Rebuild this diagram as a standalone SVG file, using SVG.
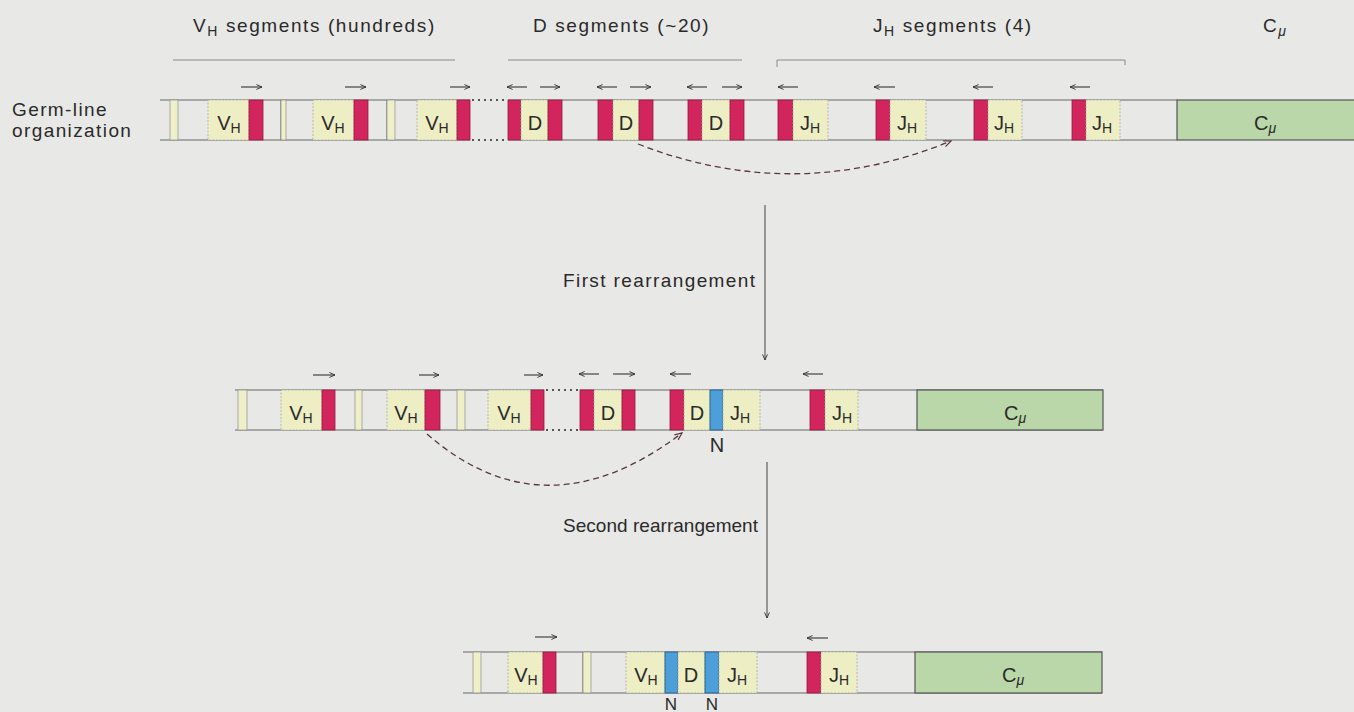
<svg xmlns="http://www.w3.org/2000/svg" width="1354" height="712" viewBox="0 0 1354 712">
<defs>
<marker id="ah" viewBox="0 0 10 10" refX="9" refY="5" markerWidth="7" markerHeight="7" orient="auto" markerUnits="userSpaceOnUse"><path d="M1,1.5 L9,5 L1,8.5" fill="none" stroke="#333" stroke-width="1.3"/></marker>
<marker id="ahd" viewBox="0 0 10 10" refX="9" refY="5" markerWidth="9" markerHeight="9" orient="auto" markerUnits="userSpaceOnUse"><path d="M1,1.5 L9,5 L1,8.5" fill="none" stroke="#5a3644" stroke-width="1.3"/></marker>
<style>
text{font-family:"Liberation Sans",Arial,Helvetica,sans-serif;fill:#2a2a2a}
.hd{font-size:19px;letter-spacing:1.6px}
.lb{font-size:19px;letter-spacing:1.4px}
.bx{font-size:20px;text-anchor:middle}
.nl{font-size:17px;text-anchor:middle}
.sub{font-size:14px}
.strand{stroke:#666;stroke-width:1.2;fill:none}
.dots{stroke:#555;stroke-width:2;stroke-dasharray:2 4;fill:none}
.y{fill:#eeeec4;stroke:#aaa;stroke-width:0.8;stroke-dasharray:2 1.5}
.band{fill:#efefc8;stroke:#999;stroke-width:0.8}
.r{fill:#d3255d;stroke:#8f1c42;stroke-width:0.8}
.b{fill:#4c9fd8;stroke:#275e88;stroke-width:0.9}
.g{fill:#b9d7a8;stroke:#555;stroke-width:1.2}
.dir{stroke:#333;stroke-width:1.1;fill:none}
.brk{stroke:#8a8a8a;stroke-width:1;fill:none}
.curve{stroke:#5a3644;stroke-width:1.3;stroke-dasharray:6 4;fill:none}
.vert{stroke:#444;stroke-width:1;fill:none}
</style>
</defs>
<rect x="0" y="0" width="1354" height="712" fill="#e8e8e6"/>

<!-- headers -->
<g id="headers">
<text class="hd" x="193" y="32">V<tspan class="sub" dy="4">H</tspan><tspan dy="-4"> segments (hundreds)</tspan></text>
<text class="hd" x="533" y="32">D segments (~20)</text>
<text class="hd" x="873" y="32">J<tspan class="sub" dy="4">H</tspan><tspan dy="-4"> segments (4)</tspan></text>
<text class="hd" x="1263" y="32">C<tspan class="sub" dy="4" font-style="italic">μ</tspan></text>
<path class="brk" d="M173,60 H455"/>
<path class="brk" d="M508,60 H742"/>
<path class="brk" d="M777,67 V60 H1125 V65"/>
</g>

<g id="row-label">
<text class="lb" x="12" y="116">Germ-line</text>
<text class="lb" x="12" y="137">organization</text>
</g>

<!-- TOP ROW -->
<g id="germline-strand">
<path class="strand" d="M160,100 H470 M508,100 H1177 M160,140 H470 M508,140 H1177"/>
<path class="dots" d="M472,100 H506 M472,140 H506"/>
</g>
<g id="top-vh1">
<rect class="band" x="170" y="100" width="8" height="40"/>
<rect class="y" x="208" y="100" width="41" height="40"/>
<rect class="r" x="249" y="100" width="14" height="40"/>
<text class="bx" x="229" y="130">V<tspan class="sub" dy="3">H</tspan></text>
<path class="dir" d="M241,87 H262" marker-end="url(#ah)"/>
</g>
<g id="top-vh2">
<path class="strand" d="M281,100 V140"/>
<rect class="band" x="281" y="100" width="5" height="40"/>
<rect class="y" x="313" y="100" width="41" height="40"/>
<rect class="r" x="354" y="100" width="14" height="40"/>
<text class="bx" x="333" y="130">V<tspan class="sub" dy="3">H</tspan></text>
<path class="dir" d="M345,87 H366" marker-end="url(#ah)"/>
</g>
<g id="top-vh3">
<path class="strand" d="M387,100 V140"/>
<rect class="band" x="387" y="100" width="8" height="40"/>
<rect class="y" x="417" y="100" width="40" height="40"/>
<rect class="r" x="457" y="100" width="13" height="40"/>
<text class="bx" x="437" y="130">V<tspan class="sub" dy="3">H</tspan></text>
<path class="dir" d="M450,87 H470" marker-end="url(#ah)"/>
</g>
<g id="top-d1">
<rect class="r" x="508" y="100" width="13" height="40"/>
<rect class="y" x="521" y="100" width="27" height="40"/>
<rect class="r" x="548" y="100" width="14" height="40"/>
<text class="bx" x="535" y="130">D</text>
<path class="dir" d="M527,87 H507" marker-end="url(#ah)"/>
<path class="dir" d="M540,87 H560" marker-end="url(#ah)"/>
</g>
<g id="top-d2">
<rect class="r" x="598" y="100" width="15" height="40"/>
<rect class="y" x="613" y="100" width="26" height="40"/>
<rect class="r" x="639" y="100" width="14" height="40"/>
<text class="bx" x="626" y="130">D</text>
<path class="dir" d="M617,87 H597" marker-end="url(#ah)"/>
<path class="dir" d="M630,87 H651" marker-end="url(#ah)"/>
</g>
<g id="top-d3">
<rect class="r" x="688" y="100" width="14" height="40"/>
<rect class="y" x="702" y="100" width="28" height="40"/>
<rect class="r" x="730" y="100" width="14" height="40"/>
<text class="bx" x="716" y="130">D</text>
<path class="dir" d="M707,87 H687" marker-end="url(#ah)"/>
<path class="dir" d="M722,87 H742" marker-end="url(#ah)"/>
</g>
<g id="top-j1">
<rect class="r" x="778" y="100" width="15" height="40"/>
<rect class="y" x="793" y="100" width="35" height="40"/>
<text class="bx" x="810" y="130">J<tspan class="sub" dy="3">H</tspan></text>
<path class="dir" d="M798,87 H778" marker-end="url(#ah)"/>
</g>
<g id="top-j2">
<rect class="r" x="876" y="100" width="14" height="40"/>
<rect class="y" x="890" y="100" width="36" height="40"/>
<text class="bx" x="907" y="130">J<tspan class="sub" dy="3">H</tspan></text>
<path class="dir" d="M895,87 H874" marker-end="url(#ah)"/>
</g>
<g id="top-j3">
<rect class="r" x="974" y="100" width="14" height="40"/>
<rect class="y" x="988" y="100" width="34" height="40"/>
<text class="bx" x="1004" y="130">J<tspan class="sub" dy="3">H</tspan></text>
<path class="dir" d="M993,87 H973" marker-end="url(#ah)"/>
</g>
<g id="top-j4">
<rect class="r" x="1072" y="100" width="14" height="40"/>
<rect class="y" x="1086" y="100" width="34" height="40"/>
<text class="bx" x="1102" y="130">J<tspan class="sub" dy="3">H</tspan></text>
<path class="dir" d="M1090,87 H1070" marker-end="url(#ah)"/>
</g>
<g id="top-c">
<rect class="g" x="1177" y="100" width="190" height="40"/>
<text class="bx" x="1265" y="130">C<tspan class="sub" dy="3" font-style="italic">μ</tspan></text>
</g>

<!-- MIDDLE ROW -->
<g id="mid-strand">
<path class="strand" d="M235,390 H544 M580,390 H1103 M235,430 H544 M580,430 H1103"/>
<path class="dots" d="M546,390 H578 M546,430 H578"/>
</g>
<g id="mid-vh1">
<rect class="band" x="238" y="390" width="9" height="40"/>
<rect class="y" x="281" y="390" width="41" height="40"/>
<rect class="r" x="322" y="390" width="13" height="40"/>
<text class="bx" x="301" y="420">V<tspan class="sub" dy="3">H</tspan></text>
<path class="dir" d="M313,375 H335" marker-end="url(#ah)"/>
</g>
<g id="mid-vh2">
<rect class="band" x="355" y="390" width="7" height="40"/>
<rect class="y" x="387" y="390" width="38" height="40"/>
<rect class="r" x="425" y="390" width="15" height="40"/>
<text class="bx" x="406" y="420">V<tspan class="sub" dy="3">H</tspan></text>
<path class="dir" d="M419,375 H439" marker-end="url(#ah)"/>
</g>
<g id="mid-vh3">
<rect class="band" x="457" y="390" width="8" height="40"/>
<rect class="y" x="488" y="390" width="43" height="40"/>
<rect class="r" x="531" y="390" width="13" height="40"/>
<text class="bx" x="509" y="420">V<tspan class="sub" dy="3">H</tspan></text>
<path class="dir" d="M524,375 H543" marker-end="url(#ah)"/>
</g>
<g id="mid-d1">
<rect class="r" x="580" y="390" width="14" height="40"/>
<rect class="y" x="594" y="390" width="28" height="40"/>
<rect class="r" x="622" y="390" width="13" height="40"/>
<text class="bx" x="608" y="420">D</text>
<path class="dir" d="M599,374 H579" marker-end="url(#ah)"/>
<path class="dir" d="M613,374 H635" marker-end="url(#ah)"/>
</g>
<g id="mid-dj">
<rect class="r" x="670" y="390" width="14" height="40"/>
<rect class="y" x="684" y="390" width="26" height="40"/>
<rect class="b" x="710" y="390" width="13" height="40"/>
<rect class="y" x="723" y="390" width="37" height="40"/>
<text class="bx" x="697" y="420">D</text>
<text class="bx" x="740" y="420">J<tspan class="sub" dy="3">H</tspan></text>
<text class="bx" x="717" y="452">N</text>
<path class="dir" d="M691,374 H670" marker-end="url(#ah)"/>
</g>
<g id="mid-j">
<rect class="r" x="810" y="390" width="15" height="40"/>
<rect class="y" x="825" y="390" width="33" height="40"/>
<text class="bx" x="842" y="420">J<tspan class="sub" dy="3">H</tspan></text>
<path class="dir" d="M823,374 H803" marker-end="url(#ah)"/>
</g>
<g id="mid-c">
<rect class="g" x="917" y="390" width="186" height="40"/>
<text class="bx" x="1015" y="420">C<tspan class="sub" dy="3" font-style="italic">μ</tspan></text>
</g>

<!-- BOTTOM ROW -->
<g id="bot-strand">
<path class="strand" d="M463,652 H1102 M463,693 H1102"/>
</g>
<g id="bot-vh1">
<rect class="band" x="473" y="652" width="8" height="41"/>
<rect class="y" x="508" y="652" width="35" height="41"/>
<rect class="r" x="543" y="652" width="13" height="41"/>
<text class="bx" x="526" y="682">V<tspan class="sub" dy="3">H</tspan></text>
<path class="dir" d="M535,637 H557" marker-end="url(#ah)"/>
</g>
<g id="bot-vdj">
<path class="strand" d="M583,652 V693"/>
<rect class="band" x="583" y="652" width="8" height="41"/>
<rect class="y" x="626" y="652" width="39" height="41"/>
<rect class="b" x="665" y="652" width="13" height="41"/>
<rect class="y" x="678" y="652" width="27" height="41"/>
<rect class="b" x="705" y="652" width="14" height="41"/>
<rect class="y" x="719" y="652" width="38" height="41"/>
<text class="bx" x="646" y="682">V<tspan class="sub" dy="3">H</tspan></text>
<text class="bx" x="691" y="682">D</text>
<text class="bx" x="737" y="682">J<tspan class="sub" dy="3">H</tspan></text>
<text class="nl" x="671" y="710">N</text>
<text class="nl" x="712" y="710">N</text>
</g>
<g id="bot-j">
<rect class="r" x="807" y="652" width="14" height="41"/>
<rect class="y" x="821" y="652" width="36" height="41"/>
<text class="bx" x="839" y="682">J<tspan class="sub" dy="3">H</tspan></text>
<path class="dir" d="M828,638 H807" marker-end="url(#ah)"/>
</g>
<g id="bot-c">
<rect class="g" x="915" y="652" width="187" height="41"/>
<text class="bx" x="1013" y="682">C<tspan class="sub" dy="3" font-style="italic">μ</tspan></text>
</g>

<!-- connectors -->
<g id="connectors">
<path class="curve" d="M638,144 Q795,205 951,141" marker-end="url(#ahd)"/>
<path class="curve" d="M427,434 Q545,537 682,433" marker-end="url(#ahd)"/>
<path class="vert" d="M765,205 V360" marker-end="url(#ah)"/>
<path class="vert" d="M767,462 V618" marker-end="url(#ah)"/>
<text class="lb" x="563" y="287">First rearrangement</text>
<text class="lb" x="563" y="532" textLength="195" lengthAdjust="spacing" style="letter-spacing:0">Second rearrangement</text>
</g>
</svg>
